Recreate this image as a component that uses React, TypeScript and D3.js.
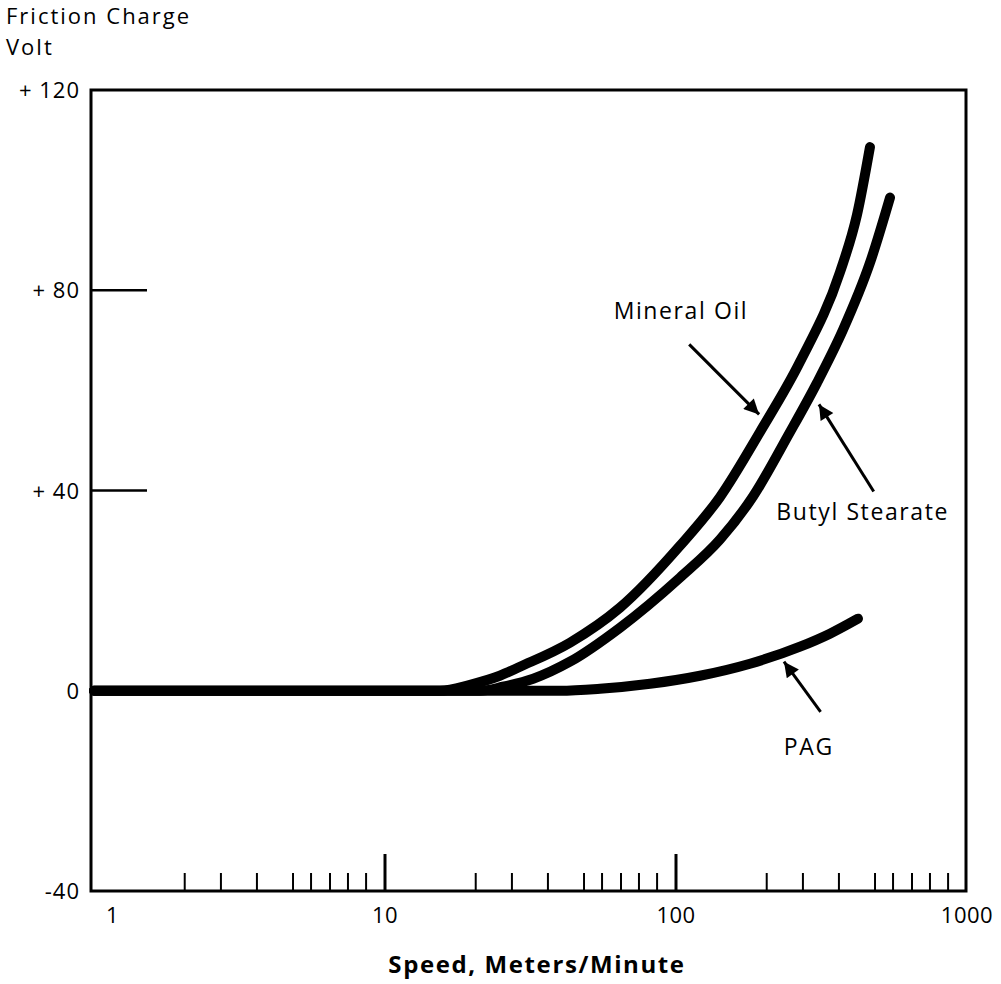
import React from "react";
import * as d3 from "d3";

// speed (m/min) and friction charge (V)
const mineralSpeed = [1, 10, 15.45, 19.6, 24.8, 29.1, 43.2, 64.2, 103, 141.6, 194.4, 266.8, 366, 418.5, 464];
const mineralVolt = [0, 0, 0, 1.2, 3.0, 4.8, 9.6, 16.6, 28.9, 38.7, 51.7, 65.7, 83.6, 95, 108.6];

const butylSpeed = [1, 10, 21.2, 25.4, 32.3, 43.2, 64.2, 103.2, 141.6, 183.9, 244.5, 305.1, 374.9, 464.2, 543.8];
const butylVolt = [0, 0, 0, 0.8, 2.4, 5.8, 12.6, 22.6, 30.2, 38.8, 51.3, 61.5, 72.1, 85.5, 98.5];

const pagSpeed = [1, 10, 39.9, 54.8, 81.4, 120.9, 179.6, 266.8, 338, 422];
const pagVolt = [0, 0, 0, 0.4, 1.4, 3.0, 5.4, 8.8, 11.4, 14.4];

const decades = [1, 10, 100];
const minorFactors = [2.05, 2.73, 3.63, 4.83, 5.57, 6.47, 7.46, 8.61];
const majorSpeedTicks = [10, 100];
const speedLabels = [1, 10, 100, 1000];
const voltLabelValues = [120, 80, 40, 0, -40];
const voltLabelText = ["+ 120", "+ 80", "+ 40", "0", "-40"];
const voltTickMarks = [80, 40];

// annotations: label position and arrow (tail -> tip) in data units
const annotations = [
  { text: "Mineral Oil", at: [104, 74.2], tail: [111, 69.2], tip: [193, 55.2] },
  { text: "Butyl Stearate", at: [438, 34.2], tail: [478, 39.8], tip: [310, 57.2] },
  { text: "PAG", at: [286, -12.8], tail: [314, -4.2], tip: [235, 5.8] },
];

const width = 1001;
const height = 984;
const frame = { left: 91, right: 966, top: 90, bottom: 891 };
const font = "'Open Sans', 'Noto Sans', sans-serif";

export default function App() {
  const x = d3.scaleLog().domain([1, 1000]).range([94, 967]);
  const y = d3.scaleLinear().domain([-40, 120]).range([frame.bottom, frame.top]);

  const line = d3
    .line<[number, number]>()
    .x((d) => x(d[0]))
    .y((d) => y(d[1]))
    .curve(d3.curveMonotoneX);

  const series = [
    { s: mineralSpeed, v: mineralVolt },
    { s: butylSpeed, v: butylVolt },
    { s: pagSpeed, v: pagVolt },
  ];

  const minorTicks = decades.flatMap((d) => minorFactors.map((f) => d * f));

  return (
    <svg
      width={width}
      height={height}
      style={{ position: "absolute", left: 0, top: 0, background: "#fff" }}
      fontFamily={font}
    >
      <defs>
        <marker
          id="head"
          viewBox="0 0 10 10"
          refX={10}
          refY={5}
          markerUnits="userSpaceOnUse"
          markerWidth={20}
          markerHeight={15}
          orient="auto"
        >
          <path d="M0,0 L10,5 L0,10 z" fill="#000" />
        </marker>
      </defs>

      {/* y title */}
      <text x={6} y={24} fontSize={22} letterSpacing={2}>Friction Charge</text>
      <text x={6} y={55} fontSize={22} letterSpacing={2}>Volt</text>

      {/* frame */}
      <rect
        x={frame.left}
        y={frame.top}
        width={frame.right - frame.left}
        height={frame.bottom - frame.top}
        fill="none"
        stroke="#000"
        strokeWidth={3}
      />

      {/* y ticks and labels */}
      {voltTickMarks.map((v) => (
        <line key={v} x1={frame.left} x2={frame.left + 56} y1={y(v)} y2={y(v)} stroke="#000" strokeWidth={2.5} />
      ))}
      {voltLabelValues.map((v, i) => (
        <text key={v} x={80} y={y(v) + 8} fontSize={22} letterSpacing={1} textAnchor="end">
          {voltLabelText[i]}
        </text>
      ))}

      {/* x ticks */}
      {minorTicks.map((t) => (
        <line key={t} x1={x(t)} x2={x(t)} y1={frame.bottom} y2={frame.bottom - 18} stroke="#000" strokeWidth={2} />
      ))}
      {majorSpeedTicks.map((t) => (
        <line key={t} x1={x(t)} x2={x(t)} y1={frame.bottom} y2={frame.bottom - 37} stroke="#000" strokeWidth={3} />
      ))}
      {speedLabels.map((t, i) => (
        <text
          key={t}
          x={i === 0 ? x(t) + 12 : x(t)}
          y={923}
          fontSize={22}
          letterSpacing={0.5}
          textAnchor={i === 0 ? "start" : "middle"}
        >
          {t}
        </text>
      ))}
      <text x={537} y={973} fontSize={24} fontWeight="bold" letterSpacing={1.6} textAnchor="middle">
        Speed, Meters/Minute
      </text>

      {/* curves */}
      {series.map((d, i) => (
        <path
          key={i}
          d={line(d.s.map((s, j) => [s, d.v[j]] as [number, number])) ?? ""}
          fill="none"
          stroke="#000"
          strokeWidth={10}
          strokeLinecap="round"
          strokeLinejoin="round"
        />
      ))}

      {/* annotations */}
      {annotations.map((a) => (
        <g key={a.text}>
          <line
            x1={x(a.tail[0])}
            y1={y(a.tail[1])}
            x2={x(a.tip[0])}
            y2={y(a.tip[1])}
            stroke="#000"
            strokeWidth={3}
            markerEnd="url(#head)"
          />
          <text x={x(a.at[0])} y={y(a.at[1])} fontSize={23} letterSpacing={1.6} textAnchor="middle">
            {a.text}
          </text>
        </g>
      ))}
    </svg>
  );
}
